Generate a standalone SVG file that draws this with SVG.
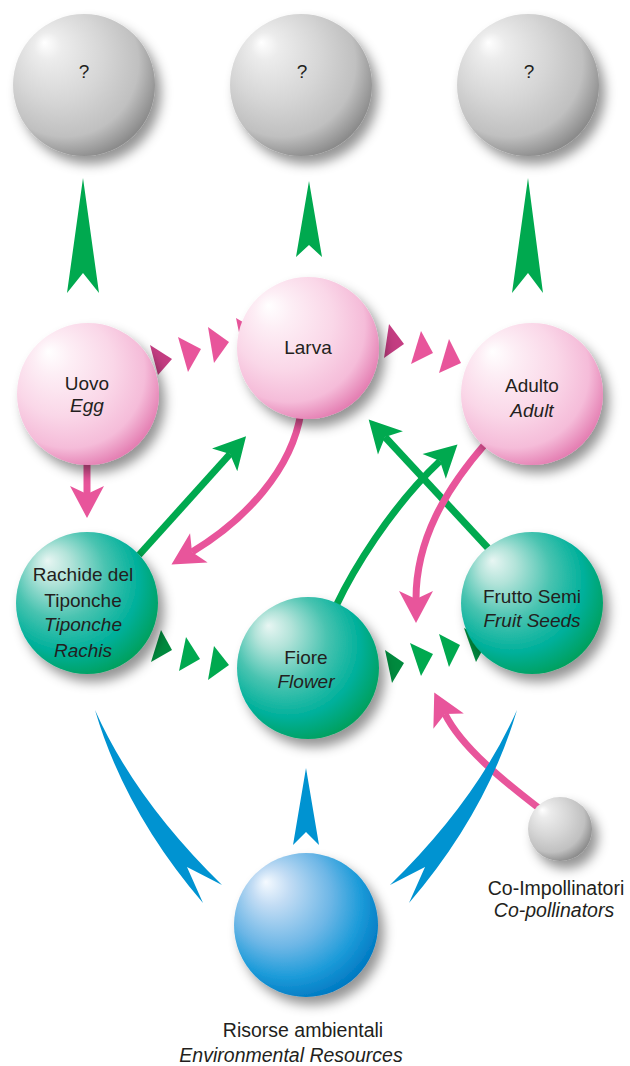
<svg xmlns="http://www.w3.org/2000/svg" width="630" height="1066" viewBox="0 0 630 1066">
<defs>
<style>
text{font-family:"Liberation Sans",Arial,sans-serif;fill:#231f20;text-anchor:middle}
.n{font-size:19px}
.q{font-size:19px}
.b{font-size:19.5px}
.i{font-style:italic}
.g{fill:#00a94f}
.gd{fill:#008a3e}
.p{fill:#e8559b}
.pd{fill:#c43d82}
.bl{fill:#0093d1}
.gl{fill:none;stroke:#00a94f;stroke-width:7}
.pl{fill:none;stroke:#e8559b;stroke-width:7}
.s{filter:url(#sh)}
</style>
<filter id="sh" x="-30%" y="-30%" width="170%" height="170%">
<feDropShadow dx="6" dy="8" stdDeviation="6" flood-color="#000" flood-opacity="0.42"/>
</filter>
<radialGradient id="gGray" cx="0.4" cy="0.38" r="0.65" fx="0.22" fy="0.2">
<stop offset="0" stop-color="#ffffff"/>
<stop offset="0.15" stop-color="#ececec"/>
<stop offset="0.5" stop-color="#d6d6d6"/>
<stop offset="0.8" stop-color="#c0c0c0"/>
<stop offset="1" stop-color="#8a8a8a"/>
</radialGradient>
<radialGradient id="gPink" cx="0.4" cy="0.38" r="0.65" fx="0.22" fy="0.2">
<stop offset="0" stop-color="#ffffff"/>
<stop offset="0.2" stop-color="#fdeef5"/>
<stop offset="0.55" stop-color="#fad7e8"/>
<stop offset="0.82" stop-color="#f5bcd9"/>
<stop offset="1" stop-color="#e47eb2"/>
</radialGradient>
<radialGradient id="gTeal" cx="0.4" cy="0.38" r="0.65" fx="0.22" fy="0.2">
<stop offset="0" stop-color="#e8f6f3"/>
<stop offset="0.2" stop-color="#b2e3d9"/>
<stop offset="0.5" stop-color="#48c3b0"/>
<stop offset="0.78" stop-color="#00b09b"/>
<stop offset="1" stop-color="#00a05e"/>
</radialGradient>
<radialGradient id="gBlue" cx="0.4" cy="0.38" r="0.65" fx="0.22" fy="0.2">
<stop offset="0" stop-color="#f5faff"/>
<stop offset="0.2" stop-color="#c2dcf4"/>
<stop offset="0.55" stop-color="#6cb6e6"/>
<stop offset="0.8" stop-color="#1c9bd9"/>
<stop offset="1" stop-color="#0079c2"/>
</radialGradient>
<marker id="ag" markerUnits="userSpaceOnUse" markerWidth="40" markerHeight="40" viewBox="-10 -20 40 40" refX="0" refY="0" orient="auto">
<path d="M24,0 L-8,-17 L0,0 L-8,17 Z" fill="#00a94f"/>
</marker>
<marker id="ap" markerUnits="userSpaceOnUse" markerWidth="40" markerHeight="40" viewBox="-10 -20 40 40" refX="0" refY="0" orient="auto">
<path d="M24,0 L-8,-17 L0,0 L-8,17 Z" fill="#e8559b"/>
</marker>
</defs>
<rect width="630" height="1066" fill="#ffffff"/>

<g id="connectors">
<path class="g" d="M83,178 L99,293 L83,273 L67,293 Z"/>
<path class="g" d="M309,181 L322,257 L309,245 L296,257 Z"/>
<path class="g" d="M528,178 L543,293 L528,273 L512,293 Z"/>
<path class="pd" d="M150,345 L172,359 L158,375 Z"/>
<path class="p" d="M178,337 L201,349 L188,372 Z"/>
<path class="p" d="M208,327 L229,342 L214,363 Z"/>
<path class="p" d="M236,318 L258,331 L243,352 Z"/>
<path class="pd" d="M389,324 L404,344 L384,358 Z"/>
<path class="p" d="M421,331 L433,353 L411,364 Z"/>
<path class="p" d="M449,339 L461,363 L439,373 Z"/>
<path class="gd" d="M161,630 L172,650 L151,662 Z"/>
<path class="g" d="M186,637 L200,659 L179,671 Z"/>
<path class="g" d="M214,646 L229,665 L208,680 Z"/>
<path class="gd" d="M385,650 L404,663 L392,683 Z"/>
<path class="g" d="M410,643 L433,654 L421,676 Z"/>
<path class="g" d="M439,634 L460,645 L449,667 Z"/>
<path class="gd" d="M464,628 L488,640 L476,662 Z"/>
<path class="pl" d="M87,460 L87,494" marker-end="url(#ap)"/>
<path class="gl" d="M139,555 L230,454" marker-end="url(#ag)"/>
<path class="pl" d="M301,412 C292,470 245,520 192,552" marker-end="url(#ap)"/>
<path class="gl" d="M336,606 C352,572 390,508 440,461" marker-end="url(#ag)"/>
<path class="gl" d="M488,548 L385,437" marker-end="url(#ag)"/>
<path class="pl" d="M486,443 C445,490 416,540 416,599" marker-end="url(#ap)"/>
<path class="pl" d="M540,809 C505,782 462,748 445,714" marker-end="url(#ap)"/>
<path class="bl" d="M306,768 L319,845 L306,832 L293,845 Z"/>
<path class="bl" d="M95,710 Q135,800 222,885 L187,867 L203,903 Q125,812 95,710 Z"/>
<path class="bl" d="M517,710 Q477,800 390,885 L425,867 L409,903 Q487,812 517,710 Z"/>
</g>

<g id="node-unknown-1"><circle class="s" cx="84" cy="85" r="71" fill="url(#gGray)"/><text class="q" x="84" y="78">?</text></g>
<g id="node-unknown-2"><circle class="s" cx="301" cy="85" r="71" fill="url(#gGray)"/><text class="q" x="302" y="78">?</text></g>
<g id="node-unknown-3"><circle class="s" cx="528" cy="85" r="71" fill="url(#gGray)"/><text class="q" x="529" y="78">?</text></g>

<g id="node-uovo"><circle class="s" cx="88" cy="394" r="71" fill="url(#gPink)"/><text class="n" x="87" y="390">Uovo</text><text class="n i" x="87" y="412">Egg</text></g>
<g id="node-larva"><circle class="s" cx="308" cy="348" r="71" fill="url(#gPink)"/><text class="n" x="308" y="354">Larva</text></g>
<g id="node-adulto"><circle class="s" cx="532" cy="394" r="71" fill="url(#gPink)"/><text class="n" x="532" y="392">Adulto</text><text class="n i" x="532" y="417">Adult</text></g>

<g id="node-rachide"><circle class="s" cx="87" cy="603" r="71" fill="url(#gTeal)"/>
<text class="n" x="83" y="581">Rachide del</text>
<text class="n" x="83" y="607">Tiponche</text>
<text class="n i" x="83" y="631">Tiponche</text>
<text class="n i" x="83" y="657">Rachis</text></g>
<g id="node-fiore"><circle class="s" cx="308" cy="668" r="71" fill="url(#gTeal)"/><text class="n" x="306" y="664">Fiore</text><text class="n i" x="306" y="688">Flower</text></g>
<g id="node-frutto"><circle class="s" cx="532" cy="603" r="71" fill="url(#gTeal)"/><text class="n" x="532" y="603">Frutto Semi</text><text class="n i" x="532" y="627">Fruit Seeds</text></g>

<g id="node-risorse"><circle class="s" cx="306" cy="925" r="72" fill="url(#gBlue)"/><text class="b" x="303" y="1037">Risorse ambientali</text><text class="b i" x="291" y="1062">Environmental Resources</text></g>
<g id="node-copollinatori"><circle class="s" cx="560" cy="829" r="32" fill="url(#gGray)"/><text class="b" x="556" y="895">Co-Impollinatori</text><text class="b i" x="554" y="917">Co-pollinators</text></g>
</svg>
